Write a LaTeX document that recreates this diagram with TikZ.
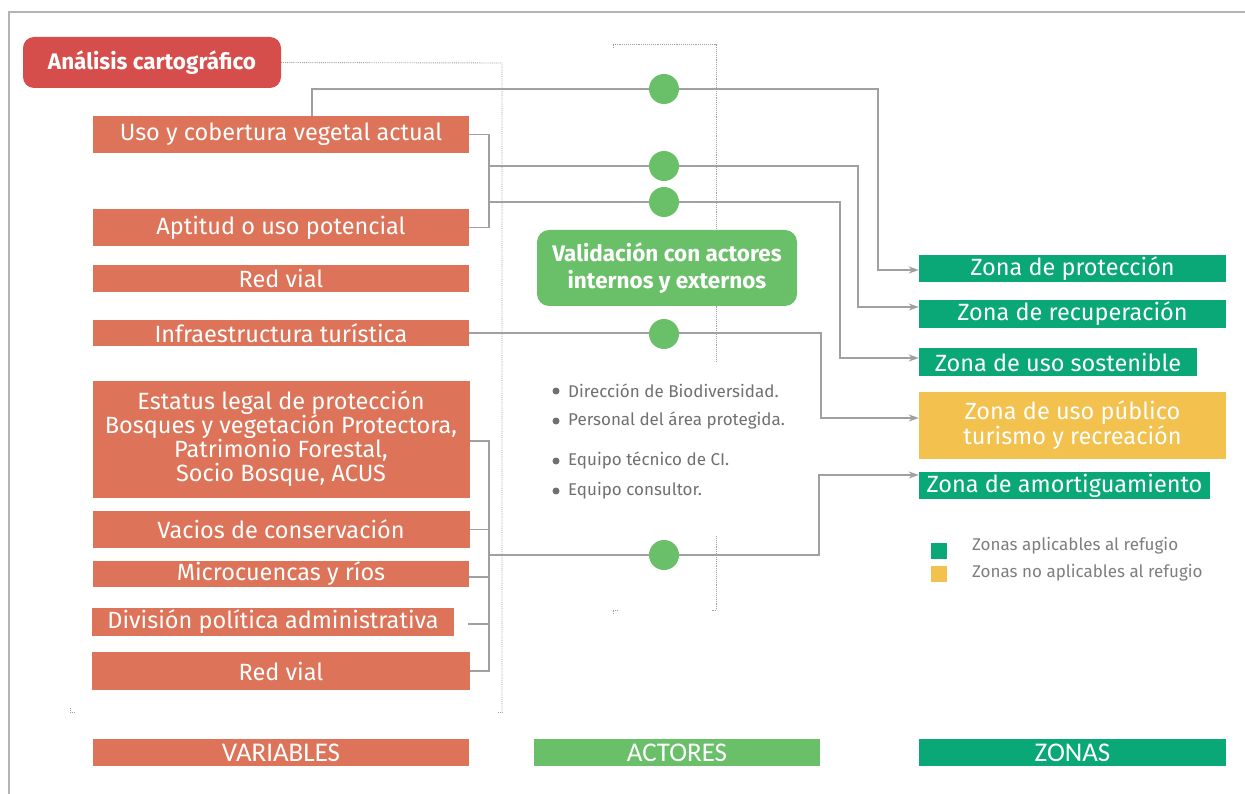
\documentclass[tikz,border=0pt]{standalone}
\usepackage{fontspec}
\setmainfont{Fira Sans}
\newfontfamily\hdfont{Carlito}
\usetikzlibrary{arrows.meta,backgrounds}
\definecolor{anared}{HTML}{D64E4B}
\definecolor{varor}{HTML}{DD7459}
\definecolor{actgr}{HTML}{6ABF69}
\definecolor{zongr}{HTML}{0AA876}
\definecolor{zonye}{HTML}{F2C14E}
\definecolor{linegr}{HTML}{A0A0A0}
\definecolor{txtgr}{HTML}{707070}
\definecolor{framegr}{HTML}{B4B4B4}
\begin{document}
\begin{tikzpicture}[x=1pt,y=-1pt,
  vbox/.style={fill=varor, text=white, inner sep=0pt, align=center, font=\fontsize{23.5}{24}\selectfont},
  zbox/.style={fill=zongr, text=white, inner sep=0pt, align=center, font=\fontsize{23.5}{25}\selectfont},
  hbox/.style={text=white, inner sep=0pt, minimum height=27pt, font=\hdfont\fontsize{27}{28}\selectfont},
  dotc/.style={circle, fill=actgr, minimum size=30pt, inner sep=0pt},
  bdot/.style={circle, fill=txtgr, minimum size=7pt, inner sep=0pt},
  conn/.style={draw=linegr, line width=1.4pt},
  arr/.style={conn, -{Stealth[length=10pt,width=7pt,inset=3pt]}},
  brk/.style={draw=linegr, line width=0.9pt, densely dotted},
  bul/.style={anchor=west, text=txtgr, inner sep=0pt, font=\fontsize{17}{19}\selectfont},
  leg/.style={anchor=west, text=txtgr!90, inner sep=0pt, font=\fontsize{17}{19}\selectfont}]
\useasboundingbox (0,0) rectangle (1245,794);

% title boxes
\node[fill=anared, rounded corners=11pt, text=white, inner sep=0pt, minimum width=258pt, minimum height=51pt,
  font=\bfseries\fontsize{22.5}{24}\selectfont] (ana) at (152,62.5) {Análisis cartográfico};
\node[fill=actgr, rounded corners=12pt, text=white, inner sep=0pt, minimum width=260pt, minimum height=76pt,
  align=center, font=\bfseries\fontsize{22.5}{27}\selectfont] (val) at (667,268) {Validación con actores\\internos y externos};

% variables
\node[vbox, minimum width=376pt, minimum height=37pt] (uso) at (281,134.5) {Uso y cobertura vegetal actual};
\node[vbox, minimum width=376pt, minimum height=37pt] (apt) at (281,227.5) {Aptitud o uso potencial};
\node[vbox, minimum width=376pt, minimum height=27pt] (red1) at (281,278.5) {Red vial};
\node[vbox, minimum width=376pt, minimum height=26pt] (inf) at (281,333) {Infraestructura turística};
\node[vbox, minimum width=377pt, minimum height=117pt] (est) at (281,439) {Estatus legal de protección\\Bosques y vegetación Protectora,\\Patrimonio Forestal,\\Socio Bosque, ACUS};
\node[vbox, minimum width=377pt, minimum height=37pt] (vac) at (281,529.5) {Vacios de conservación};
\node[vbox, minimum width=376pt, minimum height=26pt] (mic) at (281,574) {Microcuencas y ríos};
\node[vbox, minimum width=362pt, minimum height=28pt] (div) at (273,622) {División política administrativa};
\node[vbox, minimum width=378pt, minimum height=38pt] (red2) at (281,671) {Red vial};

% zones
\node[zbox, minimum width=307pt, minimum height=27pt] (zprot) at (1072.5,268.5) {Zona de protección};
\node[zbox, minimum width=307pt, minimum height=28pt] (zrec) at (1072.5,314) {Zona de recuperación};
\node[zbox, minimum width=278pt, minimum height=28pt] (zsos) at (1058,362) {Zona de uso sostenible};
\node[zbox, fill=zonye, minimum width=307pt, minimum height=67pt] (zpub) at (1072.5,425.5) {Zona de uso público\\turismo y recreación};
\node[zbox, minimum width=291pt, minimum height=27pt] (zamo) at (1064.5,485.5) {Zona de amortiguamiento};

% actor dots
\node[dotc] (c1) at (664,89) {};
\node[dotc] (c2) at (664,166) {};
\node[dotc] (c3) at (664,202) {};
\node[dotc] (c4) at (664,334) {};
\node[dotc] (c5) at (664,555) {};

% bullets
\node[bdot] (d1) at (556,391) {};
\node[bdot] (d2) at (556,421) {};
\node[bdot] (d3) at (556,461) {};
\node[bdot] (d4) at (556,491) {};
\node[bul] (b1) at (568,391) {Dirección de Biodiversidad.};
\node[bul] (b2) at (568,421) {Personal del área protegida.};
\node[bul] (b3) at (568,461) {Equipo técnico de CI.};
\node[bul] (b4) at (568,491) {Equipo consultor.};

% legend
\node[fill=zongr, minimum size=16pt, inner sep=0pt] (lg1) at (939,551) {};
\node[fill=zonye, minimum size=16pt, inner sep=0pt] (lg2) at (939,574) {};
\node[leg] (lt1) at (972,546) {Zonas aplicables al refugio};
\node[leg] (lt2) at (972,573) {Zonas no aplicables al refugio};

% headers
\node[hbox, fill=varor, minimum width=376pt] (hvar) at (281,752.5) {VARIABLES};
\node[hbox, fill=actgr, minimum width=286pt] (hact) at (677,752.5) {ACTORES};
\node[hbox, fill=zongr, minimum width=307pt] (hzon) at (1072.5,752.5) {ZONAS};

% helper coordinates
\coordinate (ja) at (312,89);
\coordinate (ka) at (878,89);
\coordinate (bx) at (489,0);
\coordinate (j2) at (489,166);
\coordinate (k2) at (858,166);
\coordinate (j3) at (489,202);
\coordinate (k3) at (840,202);
\coordinate (k4) at (821,334);
\coordinate (j5) at (489,555);
\coordinate (k5) at (819,555);
\coordinate (dA) at (502,63);
\coordinate (dB) at (502,712);
\coordinate (dC) at (70,712);
\coordinate (mA) at (613,44);
\coordinate (mB) at (716,44);
\coordinate (mC) at (716,361);
\coordinate (mD) at (716,536);
\coordinate (mE) at (716,610);
\coordinate (mF) at (613,610);

\begin{pgfonlayer}{background}
\fill[white] (0,0) rectangle (1245,794);
\draw[framegr, line width=1.2pt] (9,794) -- (9,12) -- (1245,12);
% dotted brackets
\draw[brk] (ana.east) -- (dA) -- (dB);
\draw[brk] ([xshift=-4pt]dB) -- (dB);
\draw[brk] ([yshift=4pt]dC) -- (dC) -- ([xshift=5pt]dC);
\draw[brk] ([yshift=-4pt]mA) -- (mA) -- (mB) -- (mC);
\draw[brk] (mD) -- (mE) -- ([xshift=-4pt]mE);
\draw[brk] ([yshift=-4pt]mF) -- (mF) -- ([xshift=4pt]mF);

% upper group
\draw[conn] (uso.north -| ja) |- (c1);
\draw[arr] (c1) -- (ka) |- ([yshift=-1.5pt]zprot.west);
\draw[conn] (uso.east) -- (uso.east -| bx) -- (apt.east -| bx) -- (apt.east);
\draw[conn] (j2) -- (c2);
\draw[arr] (c2) -- (k2) |- ([yshift=7pt]zrec.west);
\draw[conn] (j3) -- (c3);
\draw[arr] (c3) -- (k3) |- ([yshift=4pt]zsos.west);
% infraestructura
\draw[arr] (inf.east) -- (inf.east -| k4) |- ([yshift=7.5pt]zpub.west);
% lower group
\draw[conn] ([yshift=-2pt]est.east) -- ([yshift=-2pt]est.east -| bx) -- (red2.east -| bx) -- (red2.east);
\draw[conn] (vac.east) -- (vac.east -| bx);
\draw[conn] ([yshift=-3pt]mic.east) -- ([yshift=-3pt]mic.east -| bx);
\draw[conn] ([xshift=14pt,yshift=-2pt]div.east) -- ([yshift=-2pt]div.east -| bx);
\draw[conn] (j5) -- (c5);
\draw[arr] (c5) -- (k5) |- ([yshift=10.5pt]zamo.west);
\end{pgfonlayer}
\end{tikzpicture}
\end{document}
